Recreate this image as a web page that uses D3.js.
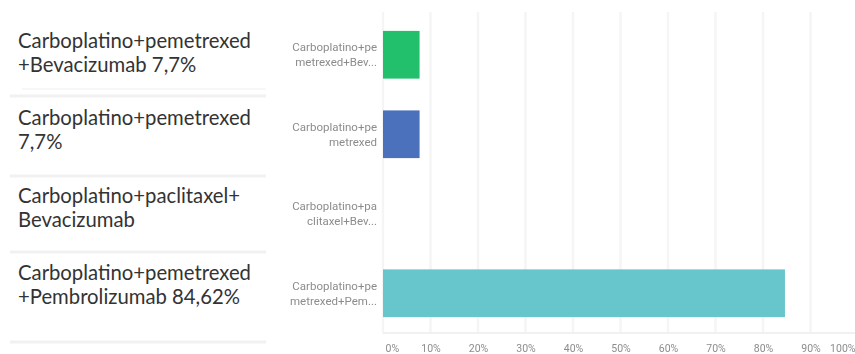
<!DOCTYPE html>
<html>
<head>
<meta charset="utf-8">
<script src="https://cdn.jsdelivr.net/npm/d3@7"></script>
<style>
  html, body { margin: 0; padding: 0; background: #ffffff; }
  svg { display: block; }
</style>
</head>
<body>
<svg id="chart" width="855" height="354"></svg>
<script>
// Treatment combinations (short labels used in the bar chart)
const categories = [
  ["Carboplatino+pe", "metrexed+Bev..."],
  ["Carboplatino+pe", "metrexed"],
  ["Carboplatino+pa", "clitaxel+Bev..."],
  ["Carboplatino+pe", "metrexed+Pem..."]
];
// Share of answers per combination (%)
const values = [7.7, 7.7, 0, 84.62];
const barColors = ["#22c06c", "#4c71bc", "#f4b400", "#66c6cb"];
// Legend-style list shown on the left
const summaryLines = [
  ["Carboplatino+pemetrexed", "+Bevacizumab 7,7%"],
  ["Carboplatino+pemetrexed", "7,7%"],
  ["Carboplatino+paclitaxel+", "Bevacizumab"],
  ["Carboplatino+pemetrexed", "+Pembrolizumab 84,62%"]
];
const tickValues = [0, 10, 20, 30, 40, 50, 60, 70, 80, 90, 100];
const tickLabels = ["0%", "10%", "20%", "30%", "40%", "50%", "60%", "70%", "80%", "90%", "100%"];

const svg = d3.select("#chart");

// soft blur for the small chart captions
const defs = svg.append("defs");
defs.append("filter").attr("id", "soft")
  .append("feGaussianBlur").attr("stdDeviation", 0.45);

// ---- left summary list ----
const left = svg.append("g");
const sepYs = [89, 96, 176, 252, 342];
left.selectAll("line.sep")
  .data(sepYs)
  .join("line")
  .attr("class", "sep")
  .attr("x1", (d, i) => i === 0 ? 22 : 10)
  .attr("x2", 266)
  .attr("y1", d => d)
  .attr("y2", d => d)
  .attr("stroke", (d, i) => i === 0 ? "#f5f5f5" : "#f1f1f1")
  .attr("stroke-width", (d, i) => i === 0 ? 1.5 : 3);

const firstBaselines = [48, 125, 203, 280];
summaryLines.forEach((lines, i) => {
  lines.forEach((t, j) => {
    left.append("text")
      .attr("x", 18)
      .attr("y", firstBaselines[i] + j * 24)
      .attr("font-family", "Lato, 'Open Sans', sans-serif")
      .attr("font-size", 20.3)
      .attr("fill", "#333333")
      .text(t);
  });
});

// ---- bar chart ----
const x = d3.scaleLinear().domain([0, 100]).range([383, 858]);
const y = d3.scaleBand()
  .domain(d3.range(categories.length))
  .range([15, 333])
  .paddingInner(0.4)
  .paddingOuter(0.2);

const chart = svg.append("g");

// vertical gridlines
chart.selectAll("line.grid")
  .data(tickValues)
  .join("line")
  .attr("class", "grid")
  .attr("x1", d => x(d))
  .attr("x2", d => x(d))
  .attr("y1", 12)
  .attr("y2", 333)
  .attr("stroke", "#f5f5f5")
  .attr("stroke-width", 2.5);

// baseline
chart.append("line")
  .attr("x1", x(0)).attr("x2", 855)
  .attr("y1", 333).attr("y2", 333)
  .attr("stroke", "#ececec")
  .attr("stroke-width", 1.5);

// bars
chart.selectAll("rect.bar")
  .data(values)
  .join("rect")
  .attr("class", "bar")
  .attr("x", x(0))
  .attr("y", (d, i) => y(i))
  .attr("width", d => x(d) - x(0))
  .attr("height", y.bandwidth())
  .attr("fill", (d, i) => barColors[i]);

// category labels
const catG = chart.selectAll("g.cat")
  .data(categories)
  .join("g")
  .attr("class", "cat")
  .attr("filter", "url(#soft)")
  .attr("transform", (d, i) => `translate(377,${y(i) + y.bandwidth() / 2})`);
catG.selectAll("text")
  .data(d => d)
  .join("text")
  .attr("x", 0)
  .attr("y", (d, j) => j === 0 ? -3.5 : 11.5)
  .attr("text-anchor", "end")
  .attr("font-family", "Roboto, sans-serif")
  .attr("font-size", 11.5)
  .attr("fill", "#8c8c8c")
  .text(d => d);

// x axis labels
const axis = d3.axisBottom(x)
  .tickValues(tickValues)
  .tickFormat((d, i) => tickLabels[i])
  .tickSize(0)
  .tickPadding(0);
const axisG = chart.append("g")
  .attr("transform", "translate(0,345)")
  .attr("filter", "url(#soft)")
  .call(axis);
axisG.select(".domain").remove();
axisG.selectAll("text")
  .attr("font-family", "Roboto, sans-serif")
  .attr("font-size", 10.5)
  .attr("fill", "#8c8c8c")
  .attr("text-anchor", (d) => d === 0 ? "start" : (d === 100 ? "end" : "middle"))
  .attr("dx", d => d === 0 ? 2 : (d === 100 ? -3 : 0));
</script>
</body>
</html>
